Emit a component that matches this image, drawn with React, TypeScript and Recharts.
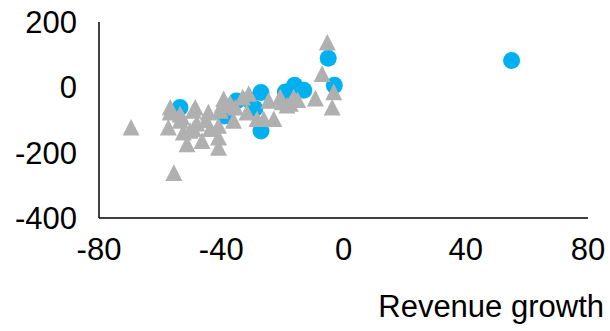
import React from "react";
import { ScatterChart, Scatter, XAxis, YAxis } from "recharts";

const blueX = [55, -5, -3, -16, -13, -19, -27, -31, -35, -39, -27, -53.5, -29];
const blueY = [82, 89, 6, 6, -9, -14, -16, -38, -42, -88, -134, -62, -65];

const grayX = [
  -69.5, -55.5, -5.3, -7, -3.2, -3.7, -9.2, -16.3, -17.4, -20, -15, -20.7, -24.5,
  -22.8, -26.1, -28.3, -31, -31.6, -35.4, -36, -39.2, -40.3, -40.9, -40.9, -40.9,
  -43.6, -44.2, -46.3, -49.1, -49.1, -51.2, -52.4, -52.9, -53.4, -56.7, -56.7,
  -57.3, -50.2, -39.8, -33, -45, -48, -18.5, -48.5, -53.5, -37,
];
const grayY = [
  -122, -261, 138, 42, -14, -61, -33, -30, -49, -45, -38, -30, -40,
  -96, -96, -96, -19, -76, -61, -101, -35, -71, -117, -153, -184,
  -127, -76, -163, -71, -127, -173, -137, -91, -101, -61, -76,
  -122, -132, -55, -30, -100, -110, -55, -61, -82, -50,
];

const xTicks = [-80, -40, 0, 40, 80];
const yTicks = [-400, -200, 0, 200];

const blueData = blueX.map((x, i) => ({ x, y: blueY[i] }));
const grayData = grayX.map((x, i) => ({ x, y: grayY[i] }));

const FONT = "'Liberation Sans', Arial, sans-serif";

const Circle = (p: any) => <circle cx={p.cx} cy={p.cy} r={8.5} fill="#00B0F0" />;
const Tri = (p: any) => {
  const w = 8.5;
  const h = 8.3;
  return (
    <path
      d={`M${p.cx},${p.cy - h} L${p.cx + w},${p.cy + h} L${p.cx - w},${p.cy + h} Z`}
      fill="#B0B0B0"
    />
  );
};

const AxisTitle = (props: any) => {
  const vb = props.viewBox;
  return (
    <text
      x={vb.x + vb.width + 16}
      y={vb.y + 99}
      textAnchor="end"
      fontFamily={FONT}
      fontSize={31}
      fill="#000"
    >
      Revenue growth
    </text>
  );
};

export default function App() {
  return (
    <div style={{ position: "absolute", left: 0, top: 0, background: "#fff" }}>
      <ScatterChart
        width={610}
        height={331}
        margin={{ top: 22, right: 22, bottom: 73, left: 0 }}
      >
        <XAxis
          type="number"
          dataKey="x"
          domain={[-80, 80]}
          ticks={xTicks}
          allowDataOverflow
          tickLine={false}
          tickSize={0}
          tickMargin={20}
          height={40}
          axisLine={{ stroke: "#000", strokeWidth: 1.5 }}
          tick={{ fill: "#000", fontSize: 31, fontFamily: FONT }}
          label={<AxisTitle />}
        />
        <YAxis
          type="number"
          dataKey="y"
          domain={[-400, 200]}
          ticks={yTicks}
          allowDataOverflow
          tickLine={false}
          tickSize={0}
          tickMargin={22}
          width={99}
          axisLine={{ stroke: "#000", strokeWidth: 1.5 }}
          tick={{ fill: "#000", fontSize: 31, fontFamily: FONT }}
        />
        <Scatter data={blueData} shape={Circle} isAnimationActive={false} />
        <Scatter data={grayData} shape={Tri} isAnimationActive={false} />
      </ScatterChart>
    </div>
  );
}
